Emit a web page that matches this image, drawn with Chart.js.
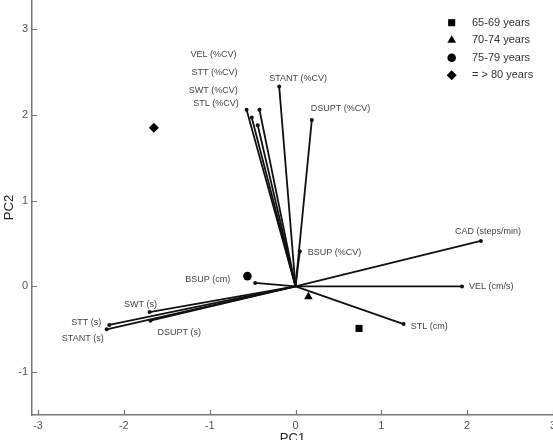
<!DOCTYPE html>
<html>
<head>
<meta charset="utf-8">
<script src="https://cdn.jsdelivr.net/npm/chart.js@4/dist/chart.umd.min.js"></script>
<style>
  html, body { margin: 0; padding: 0; background: #fff; }
  #wrap { width: 553px; height: 440px; position: relative; }
</style>
</head>
<body>
<div id="wrap"><canvas id="myChart"></canvas></div>
<script>
"use strict";

// loadings (vectors from origin)
var varNames = ["VEL (%CV)", "STT (%CV)", "SWT (%CV)", "STL (%CV)", "STANT (%CV)", "DSUPT (%CV)",
  "BSUP (%CV)", "CAD (steps/min)", "VEL (cm/s)", "STL (cm)", "BSUP (cm)",
  "SWT (s)", "DSUPT (s)", "STT (s)", "STANT (s)"];
var loadPC1 = [-0.57, -0.42, -0.51, -0.44, -0.19, 0.19, 0.05, 2.16, 1.94, 1.26, -0.47, -1.70, -1.69, -2.17, -2.20];
var loadPC2 = [2.06, 2.06, 1.97, 1.88, 2.33, 1.94, 0.41, 0.53, 0.00, -0.44, 0.04, -0.30, -0.40, -0.45, -0.50];

// age group scores
var groupNames = ["65-69 years", "70-74 years", "75-79 years", "= > 80 years"];
var groupPC1 = [0.74, 0.15, -0.56, -1.65];
var groupPC2 = [-0.49, -0.12, 0.12, 1.85];

var xTicks = [-3, -2, -1, 0, 1, 2, 3];
var yTicks = [-1, 0, 1, 2, 3];

var fontFam = "Arial, 'Liberation Sans', sans-serif";
var groupShapes = ["rect", "triangle", "circle", "rectRot"];
var groupSizes = [5, 5, 4.3, 5];

// where each vector label sits relative to its end point (px)
var labelPlace = [
  [-10, -55, "right"],
  [-22, -37, "right"],
  [-14, -27, "right"],
  [-19, -22, "right"],
  [-10, -8, "left"],
  [-1, -12, "left"],
  [8, 1, "left"],
  [7, -9, "center"],
  [7, 0, "left"],
  [7, 2, "left"],
  [-25, -3, "right"],
  [-9, -8, "center"],
  [7, 12, "left"],
  [-8, -2, "right"],
  [-3, 9, "right"]
];

var datasets = [];
for (var i = 0; i < varNames.length; i++) {
  datasets.push({
    label: varNames[i],
    data: [{ x: 0, y: 0 }, { x: loadPC1[i], y: loadPC2[i] }],
    showLine: true,
    borderColor: "#111",
    borderWidth: 1.8,
    pointRadius: [0, 2],
    pointBackgroundColor: "#111",
    pointBorderWidth: 0
  });
}
for (var g = 0; g < groupNames.length; g++) {
  datasets.push({
    label: groupNames[g],
    data: [{ x: groupPC1[g], y: groupPC2[g] }],
    showLine: false,
    pointStyle: groupShapes[g],
    pointRadius: groupSizes[g],
    pointBackgroundColor: "#000",
    pointBorderColor: "#000",
    pointBorderWidth: 0
  });
}

//------------ extras: inward ticks, vector labels, legend, axis titles
var extras = {
  id: "extras",
  beforeDatasetsDraw: function (chart) {
    var ctx = chart.ctx;
    var xs = chart.scales.x;
    var ys = chart.scales.y;
    ctx.save();
    ctx.strokeStyle = "#777";
    ctx.lineWidth = 1.2;
    ctx.beginPath();
    xTicks.forEach(function (v) {
      var px = Math.round(xs.getPixelForValue(v)) + 0.5;
      ctx.moveTo(px, ys.bottom);
      ctx.lineTo(px, ys.bottom - 5);
    });
    yTicks.forEach(function (v) {
      var py = Math.round(ys.getPixelForValue(v)) + 0.5;
      ctx.moveTo(xs.left, py);
      ctx.lineTo(xs.left + 5, py);
    });
    ctx.stroke();
    ctx.restore();
  },
  afterDatasetsDraw: function (chart) {
    var ctx = chart.ctx;
    var xs = chart.scales.x;
    var ys = chart.scales.y;
    ctx.save();
    ctx.fillStyle = "#444";
    ctx.font = "9px " + fontFam;
    ctx.textBaseline = "middle";
    for (var i = 0; i < varNames.length; i++) {
      var px = xs.getPixelForValue(loadPC1[i]);
      var py = ys.getPixelForValue(loadPC2[i]);
      ctx.textAlign = labelPlace[i][2];
      ctx.fillText(varNames[i], px + labelPlace[i][0], py + labelPlace[i][1]);
    }

    // legend
    ctx.font = "11px " + fontFam;
    ctx.textAlign = "left";
    for (var g = 0; g < groupNames.length; g++) {
      var ly = 22.7 + g * 17.5;
      ctx.fillStyle = "#000";
      Chart.helpers.drawPoint(ctx, { pointStyle: groupShapes[g], radius: groupSizes[g], borderWidth: 0, rotation: 0 }, 451.7, ly);
      ctx.fillStyle = "#333";
      ctx.fillText(groupNames[g], 472, ly);
    }

    // axis titles
    ctx.fillStyle = "#222";
    ctx.font = "13px " + fontFam;
    ctx.textBaseline = "alphabetic";
    ctx.textAlign = "center";
    ctx.fillText("PC1", (xs.left + xs.right) / 2, 442);
    ctx.translate(13, (ys.top + ys.bottom) / 2);
    ctx.rotate(-Math.PI / 2);
    ctx.fillText("PC2", 0, 0);
    ctx.restore();
  }
};

var ctx = document.getElementById("myChart").getContext("2d");
var chart = new Chart(ctx, {
  type: "scatter",
  data: { datasets: datasets },
  plugins: [extras],
  options: {
    responsive: true,
    maintainAspectRatio: false,
    animation: false,
    devicePixelRatio: 1,
    layout: { padding: 0, autoPadding: false },
    plugins: { legend: { display: false }, tooltip: { enabled: false } },
    scales: {
      x: {
        type: "linear",
        min: -3.07,
        max: 3.0,
        afterBuildTicks: function (s) {
          s.ticks = xTicks.map(function (v) { return { value: v }; });
        },
        afterFit: function (s) {
          s.height = 25;
          s.paddingLeft = 0;
          s.paddingRight = 0;
        },
        grid: { display: false, drawTicks: false },
        border: { display: true, color: "#777", width: 1.5 },
        ticks: { color: "#555", font: { size: 11, family: fontFam }, padding: 4, maxRotation: 0, autoSkip: false }
      },
      y: {
        type: "linear",
        min: -1.5,
        max: 3.34,
        afterBuildTicks: function (s) {
          s.ticks = yTicks.map(function (v) { return { value: v }; });
        },
        afterFit: function (s) {
          s.width = 32;
          s.paddingTop = 0;
          s.paddingBottom = 0;
        },
        grid: { display: false, drawTicks: false },
        border: { display: true, color: "#777", width: 1.5 },
        ticks: { color: "#555", font: { size: 11, family: fontFam }, padding: 4, autoSkip: false }
      }
    }
  }
});
</script>
</body>
</html>
